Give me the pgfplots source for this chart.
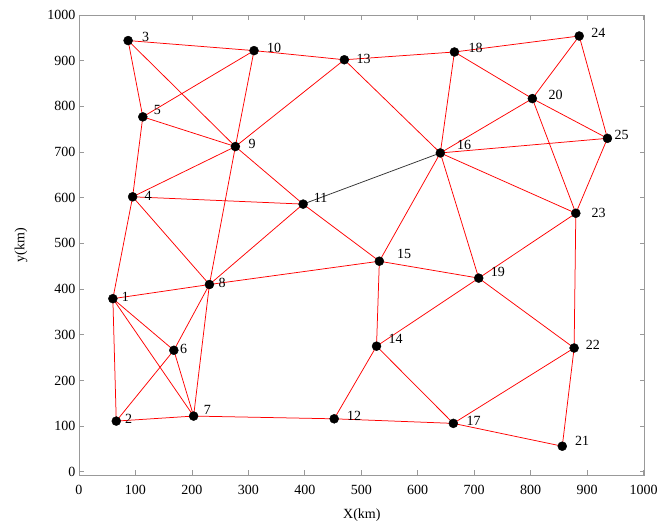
\documentclass[border=0pt]{standalone}
\usepackage{fontspec}
\setmainfont{Liberation Serif}
\usepackage{pgfplots}
\usepackage{pgfplotstable}
\pgfplotsset{compat=1.18}

\pgfplotstableread{
x y lbl dx dy
60 379 1 8.7 2
66 111 2 8.7 2
87 944 3 13.7 4
95 602 4 11.7 1
113 777 5 11 7
168 266 6 6 1
203 122 7 10 6
231 410 8 9 2
277 712 9 13 3
310 922 10 13 3
397 586 11 10.6 6
452 116 12 12.7 3
470 902 13 12 1
527 275 14 12 7
532 461 15 17.6 7.7
640 698 16 16.6 7.6
663 106 17 13 2
665 919 18 14 4
708 424 19 12 6
803 817 20 16 4
856 56 21 12.7 5
877 271 22 11.5 3
880 566 23 15.7 0
886 954 24 12 3
936 730 25 7 3
}\nodetab

\pgfplotstableread{
x y
87 944
310 922
nan nan
310 922
470 902
nan nan
470 902
665 919
nan nan
665 919
886 954
nan nan
87 944
113 777
nan nan
87 944
277 712
nan nan
113 777
310 922
nan nan
113 777
277 712
nan nan
113 777
95 602
nan nan
310 922
277 712
nan nan
277 712
470 902
nan nan
95 602
277 712
nan nan
95 602
397 586
nan nan
95 602
231 410
nan nan
95 602
60 379
nan nan
277 712
231 410
nan nan
277 712
397 586
nan nan
397 586
231 410
nan nan
397 586
532 461
nan nan
470 902
640 698
nan nan
665 919
640 698
nan nan
665 919
803 817
nan nan
886 954
803 817
nan nan
886 954
936 730
nan nan
803 817
936 730
nan nan
803 817
640 698
nan nan
803 817
880 566
nan nan
640 698
936 730
nan nan
640 698
880 566
nan nan
640 698
532 461
nan nan
640 698
708 424
nan nan
936 730
880 566
nan nan
880 566
708 424
nan nan
880 566
877 271
nan nan
532 461
231 410
nan nan
532 461
527 275
nan nan
532 461
708 424
nan nan
708 424
527 275
nan nan
708 424
877 271
nan nan
527 275
452 116
nan nan
527 275
663 106
nan nan
877 271
663 106
nan nan
877 271
856 56
nan nan
663 106
452 116
nan nan
663 106
856 56
nan nan
452 116
203 122
nan nan
203 122
66 111
nan nan
203 122
60 379
nan nan
203 122
168 266
nan nan
203 122
231 410
nan nan
168 266
60 379
nan nan
168 266
66 111
nan nan
168 266
231 410
nan nan
60 379
66 111
nan nan
60 379
231 410
}\edgetab

\pgfplotstableread{
x y
397 586
640 698
}\blackedge

\begin{document}
\begin{tikzpicture}
\begin{axis}[
  scale only axis,
  width=565.7pt, height=460pt,
  xmin=0, xmax=1002, ymin=-7, ymax=1000,
  xtick={0,100,...,1000}, ytick={0,100,...,1000},
  tick align=inside,
  major tick length=5pt,
  axis line style={draw=gray!80, line width=0.8pt},
  every tick/.style={draw=gray!80, line width=0.8pt},
  tick label style={font=\fontsize{14}{16}\selectfont, text=black},
  /pgf/number format/assume math mode=true,
  /pgf/number format/1000 sep={},
  xticklabel style={yshift=-7pt},
  xlabel={X(km)}, ylabel={y(km)},
  label style={font=\fontsize{14}{16}\selectfont},
  xlabel style={at={(axis description cs:0.5,-0.087)}, anchor=center},
  ylabel style={at={(axis description cs:-0.1025,0.5)}, anchor=center},
  unbounded coords=jump,
]
\addplot[only marks, mark=*, mark size=4.5pt, black,
  point meta=explicit symbolic,
  nodes near coords,
  visualization depends on={\thisrow{dx}\as\dx},
  visualization depends on={\thisrow{dy}\as\dy},
  every node near coord/.append style={anchor=west, inner sep=0pt,
     xshift=\dx pt, yshift=\dy pt, font=\fontsize{14}{16}\selectfont, text=black}
] table[x=x, y=y, meta=lbl] {\nodetab};
\addplot[red, line width=0.75pt, mark=none, unbounded coords=jump] table[x=x, y=y] {\edgetab};
\addplot[black!80, line width=0.75pt, mark=none] table[x=x, y=y] {\blackedge};
\end{axis}
\pgfresetboundingbox
\path ([xshift=-79pt, yshift=-51pt]current axis.south west) rectangle ([xshift=13.3pt, yshift=15pt]current axis.north east);
\end{tikzpicture}
\end{document}
